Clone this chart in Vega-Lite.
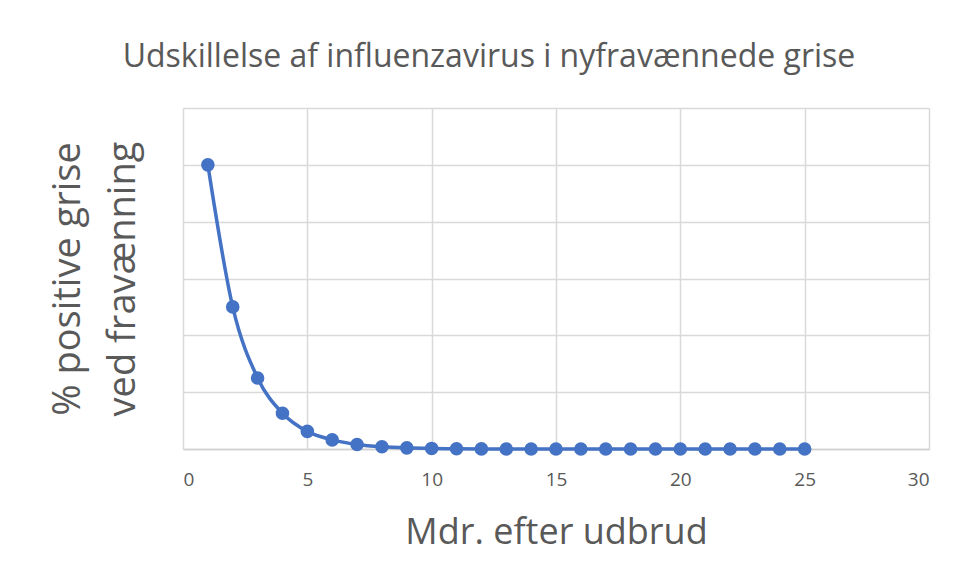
{
  "$schema": "https://vega.github.io/schema/vega-lite/v6.json",
  "autosize": {"type": "none"},
  "width": 746,
  "height": 341,
  "padding": {"left": 183, "top": 108, "right": 32, "bottom": 132},
  "background": "white",
  "title": {
    "text": "Udskillelse af influenzavirus i nyfravænnede grise",
    "font": "Open Sans",
    "fontSize": 32,
    "fontWeight": "normal",
    "color": "#595959",
    "anchor": "middle",
    "frame": "bounds",
    "offset": 34
  },
  "data": {
    "values": [
      {"mdr": 1, "pct": 50},
      {"mdr": 2, "pct": 25},
      {"mdr": 3, "pct": 12.5},
      {"mdr": 4, "pct": 6.3},
      {"mdr": 5, "pct": 3.1},
      {"mdr": 6, "pct": 1.6},
      {"mdr": 7, "pct": 0.8},
      {"mdr": 8, "pct": 0.4},
      {"mdr": 9, "pct": 0.2},
      {"mdr": 10, "pct": 0.1},
      {"mdr": 11, "pct": 0.05},
      {"mdr": 12, "pct": 0.02},
      {"mdr": 13, "pct": 0.01},
      {"mdr": 14, "pct": 0.01},
      {"mdr": 15, "pct": 0},
      {"mdr": 16, "pct": 0},
      {"mdr": 17, "pct": 0},
      {"mdr": 18, "pct": 0},
      {"mdr": 19, "pct": 0},
      {"mdr": 20, "pct": 0},
      {"mdr": 21, "pct": 0},
      {"mdr": 22, "pct": 0},
      {"mdr": 23, "pct": 0},
      {"mdr": 24, "pct": 0},
      {"mdr": 25, "pct": 0}
    ]
  },
  "encoding": {
    "x": {
      "field": "mdr",
      "type": "quantitative",
      "scale": {"domain": [0, 30], "nice": false, "zero": true},
      "axis": {
        "values": [0, 5, 10, 15, 20, 25, 30],
        "title": "Mdr. efter udbrud",
        "titleFont": "Open Sans",
        "titleFontSize": 36,
        "titleFontWeight": "normal",
        "titleColor": "#595959",
        "titlePadding": 26,
        "labelFont": "Open Sans",
        "labelFontSize": 19,
        "labelColor": "#595959",
        "labelPadding": 21,
        "ticks": false,
        "domain": true,
        "domainColor": "#d0d0d0",
        "domainWidth": 1.5,
        "grid": true,
        "gridColor": "#d9d9d9",
        "gridWidth": 1.5
      }
    },
    "y": {
      "field": "pct",
      "type": "quantitative",
      "scale": {"domain": [0, 60], "nice": false},
      "axis": {
        "values": [0, 10, 20, 30, 40, 50, 60],
        "title": ["% positive grise", "ved fravænning"],
        "titleFont": "Open Sans",
        "titleFontSize": 38,
        "titleFontWeight": "normal",
        "titleColor": "#595959",
        "titleLineHeight": 55,
        "titlePadding": 41,
        "labels": false,
        "ticks": false,
        "domain": false,
        "grid": true,
        "gridColor": "#d9d9d9",
        "gridWidth": 1.5
      }
    }
  },
  "layer": [
    {
      "mark": {"type": "line", "interpolate": "monotone", "color": "#4472C4", "strokeWidth": 3.5}
    },
    {
      "mark": {"type": "point", "filled": true, "opacity": 1, "color": "#4472C4", "size": 185}
    }
  ],
  "config": {"view": {"stroke": null}}
}
